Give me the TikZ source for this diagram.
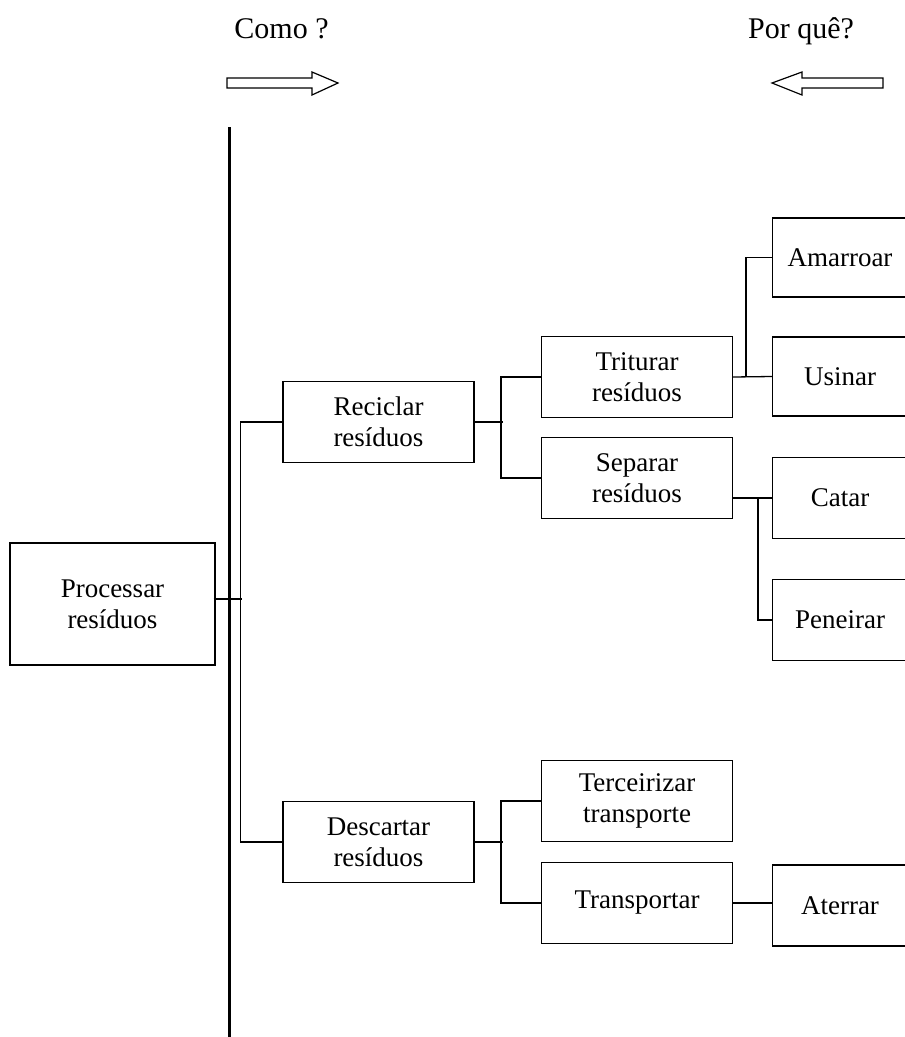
\documentclass[tikz,border=0pt]{standalone}
\usepackage{fontspec}
\setmainfont{Liberation Serif}
\begin{document}
\begin{tikzpicture}[x=1pt,y=-1pt,
  box/.style={draw,line width=1.3pt,rectangle,inner sep=0pt,align=center,
    minimum width=191pt,minimum height=81pt,
    font=\fontsize{27}{31}\selectfont},
  leafbox/.style={box,minimum width=135pt},
  wire/.style={line width=1.3pt},
  heading/.style={anchor=base,inner sep=0pt,font=\fontsize{30}{34}\selectfont},
  blockarrow/.style={draw,line width=1.2pt,fill=white,line join=miter},
  spine/.style={line width=3pt}]
\useasboundingbox (0,0) rectangle (905,1037);
\clip (0,0) rectangle (905,1037);

% headings with their direction arrows
\node[heading] (como) at (281.5,38) {Como ?};
\node[heading] (porque) at (801,38) {Por quê?};
\draw[blockarrow] (227,78) -- (312,78) -- (312,72) -- (338,83) -- (312,95) -- (312,88) -- (227,88) -- cycle;
\draw[blockarrow] (883,78) -- (802,78) -- (802,72) -- (772,83) -- (802,95) -- (802,88) -- (883,88) -- cycle;

% dividing line
\coordinate (spinetop) at (229,127);
\coordinate (spinebot) at (229,1040);
\draw[spine] (spinetop) -- (spinebot);

% boxes
\node[box,minimum width=205pt,minimum height=122pt] (proc) at (112.5,604) {Processar\\resíduos};
\node[box] (recic) at (378.5,422) {Reciclar\\resíduos};
\node[box] (desc) at (378.5,842) {Descartar\\resíduos};
\node[box] (trit) at (637,377) {Triturar\\resíduos};
\node[box] (sep) at (637,478) {Separar\\resíduos};
\node[box] (terc) at (637,801) {Terceirizar\\transporte};
\node[box] (transp) at (637,903) {Transportar};
\node[leafbox,minimum height=79pt] (amar) at (840,257.5) {Amarroar};
\node[leafbox,minimum height=79pt] (usin) at (840,376.5) {Usinar};
\node[leafbox] (catar) at (840,498) {Catar};
\node[leafbox] (pene) at (840,620) {Peneirar};
\node[leafbox] (ater) at (840,905.5) {Aterrar};

% connectors
\draw[wire] (proc.east) ++(-2,-5) -- ++(28,0);
\draw[wire] (recic.west) -- ++(-42,0) |- (desc.west);
\draw[wire] (recic.east) -- ++(28,0);
\draw[wire] (trit.west) -- ++(-40,0) |- (sep.west);
\draw[wire] (desc.east) -- ++(28,0);
\draw[wire] (terc.west) -- ++(-40,0) |- (transp.west);
\draw[wire] (trit.east) -- (usin.west);
\draw[wire] (amar.west) -- ++(-26,0) |- (usin.west);
\draw[wire] (sep.east |- catar.west) -- (catar.west);
\draw[wire] (catar.west) -- ++(-14,0) |- (pene.west);
\draw[wire] (transp.east) -- (transp.east -| ater.west);
\end{tikzpicture}
\end{document}
